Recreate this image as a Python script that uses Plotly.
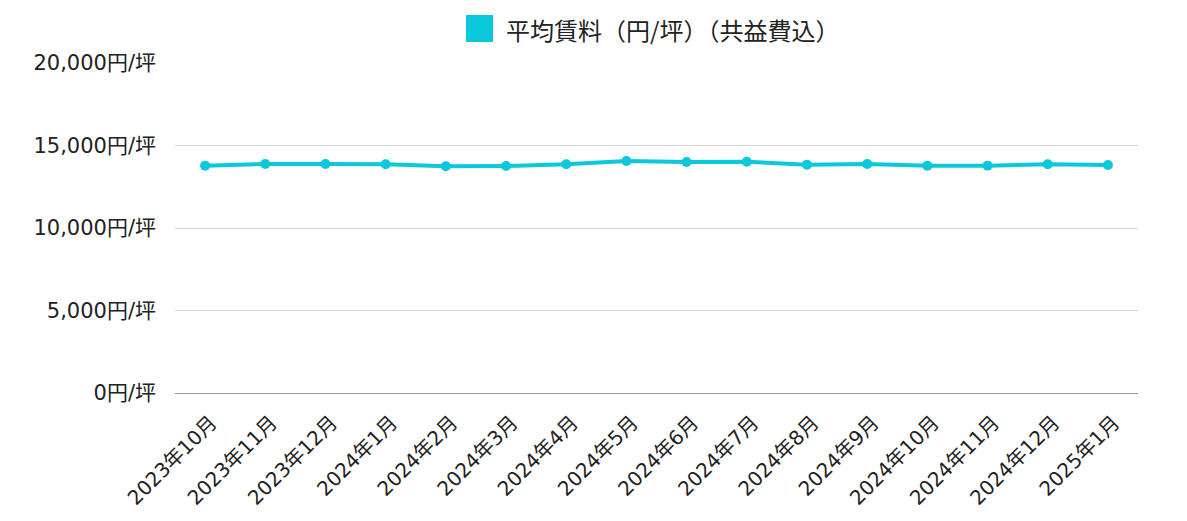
import plotly.graph_objects as go

months = ["2023年10月", "2023年11月", "2023年12月", "2024年1月", "2024年2月", "2024年3月",
          "2024年4月", "2024年5月", "2024年6月", "2024年7月", "2024年8月", "2024年9月",
          "2024年10月", "2024年11月", "2024年12月", "2025年1月"]
avg_rent = [13780, 13880, 13880, 13860, 13740, 13760, 13860, 14060,
            14000, 14020, 13840, 13880, 13780, 13780, 13860, 13820]
series_name = "平均賃料（円/坪）（共益費込）"
y_ticks = [0, 5000, 10000, 15000, 20000]
y_tick_text = [f"{v:,}円/坪" for v in y_ticks]

color = "#0BC8DB"
tick_font = "'DejaVu Sans', 'Noto Sans CJK JP', sans-serif"
legend_font = "'Noto Sans CJK JP', sans-serif"

# page has an 8px body margin; plot area target (page px): x 175-1138, y 63-393
W, H = 1171, 505
L, T = 175 - 8, 63 - 8
R = W - (1138 - 8)
B = H - (393 - 8)

fig = go.Figure()
fig.add_trace(go.Scatter(
    x=months, y=avg_rent, mode="lines+markers", name=series_name,
    line=dict(color=color, width=4), marker=dict(color=color, size=10),
    showlegend=False,
))

fig.update_layout(
    width=W, height=H,
    margin=dict(l=L, r=R, t=T, b=B, autoexpand=False),
    paper_bgcolor="white", plot_bgcolor="white",
    font=dict(family=tick_font, color="#222222", size=18),
    xaxis=dict(type="category", range=[-0.5, len(months) - 0.5], tickangle=-45,
               showgrid=False, showline=False,
               tickfont=dict(size=20), ticks="", automargin=False,
               ticklabelshift=6, ticklabelstandoff=13),
    yaxis=dict(range=[0, 20000], tickvals=y_ticks, ticktext=y_tick_text,
               showgrid=True, gridcolor="#d6d6d6", gridwidth=1,
               zeroline=True, zerolinecolor="#999999", zerolinewidth=1,
               tickfont=dict(size=21), ticks="", ticklabelstandoff=18, automargin=False),
    shapes=[dict(type="rect", xref="paper", yref="paper",
                 x0=(466 - 175) / 963, x1=(493 - 175) / 963,
                 y0=(393 - 42) / 330, y1=(393 - 15) / 330,
                 fillcolor=color, line=dict(width=0))],
    annotations=[dict(text=series_name, xref="paper", yref="paper",
                      x=(504 - 175) / 963, y=(393 - 29) / 330,
                      xanchor="left", yanchor="middle", showarrow=False,
                      font=dict(family=legend_font, size=24, color="#222222"))],
)

fig.write_html("out.html")
